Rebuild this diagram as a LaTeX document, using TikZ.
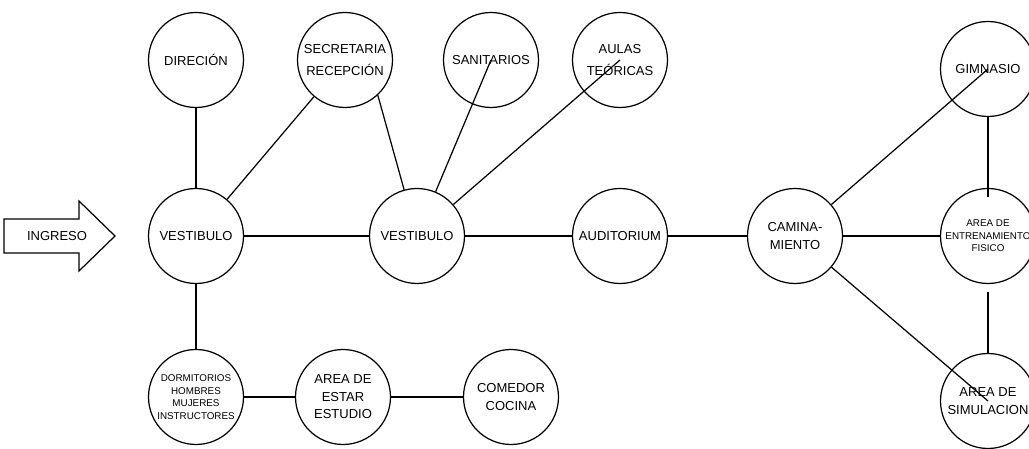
\documentclass[tikz,border=0pt]{standalone}
\usepackage{fontspec}
\setmainfont{Liberation Sans}
\usetikzlibrary{calc}

\begin{document}
\begin{tikzpicture}[x=0.02cm,y=-0.02cm,
  room/.style={circle,draw,line width=0.7pt,minimum size=1.9cm,inner sep=0pt,align=center,font=\fontsize{7.4}{10}\selectfont},
  smallroom/.style={room,font=\fontsize{5.6}{7.2}\selectfont},
  link/.style={line width=0.7pt}]
\useasboundingbox (0,0) rectangle (1029,449);

% Entrance arrow
\draw[link] (4,219)--(79,219)--(79,201)--(115,236)--(79,271)--(79,253)--(4,253)--cycle;
\node[font=\fontsize{7.4}{10}\selectfont] (ingreso) at (57,236){INGRESO};

% Rooms
\node[room] (vesa) at (196,236){VESTIBULO};
\node[room] (dir) at (196,60){DIRECIÓN};
\node[room] (sec) at (345,60){SECRETARIA\\[2pt]RECEPCIÓN};
\node[room] (vesb) at (417,236){VESTIBULO};
\node[room] (san) at (491,60){SANITARIOS};
\node[room] (aul) at (620,60){AULAS\\[2pt]TEÓRICAS};
\node[room] (aud) at (620,236){AUDITORIUM};
\node[room] (cam) at (795,236){CAMINA-\\MIENTO};
\node[room] (gim) at (988,69){GIMNASIO};
\node[smallroom] (ent) at (988,236){AREA DE\\ENTRENAMIENTO\\FISICO};
\node[room] (sim) at (988,401){AREA DE\\SIMULACION};
\node[smallroom] (dor) at (196,397){DORMITORIOS\\HOMBRES\\MUJERES\\INSTRUCTORES};
\node[room] (est) at (343,397){AREA DE\\ESTAR\\ESTUDIO};
\node[room] (com) at (511,397){COMEDOR\\COCINA};

% Links
\draw[link] (dir)--(vesa);
\draw[link] (sec)--(vesa);
\draw[link] (sec.-47)--(vesb);
\draw[link] (vesa)--(vesb);
\draw[link] (vesb)--(san.center);
\draw[link] (vesb)--(aul.center);
\draw[link] (vesb)--(aud);
\draw[link] (aud)--(cam);
\draw[link] (cam)--(ent);
\draw[link] (cam)--(gim.center);
\draw[link] (cam)--(sim.center);
\draw[link,shorten >=-0.18cm] (gim)--(ent);
\draw[link,shorten <=0.16cm] (ent)--(sim);
\draw[link] (vesa)--(dor);
\draw[link] (dor)--(est);
\draw[link] (est)--(com);

\end{tikzpicture}
\end{document}
